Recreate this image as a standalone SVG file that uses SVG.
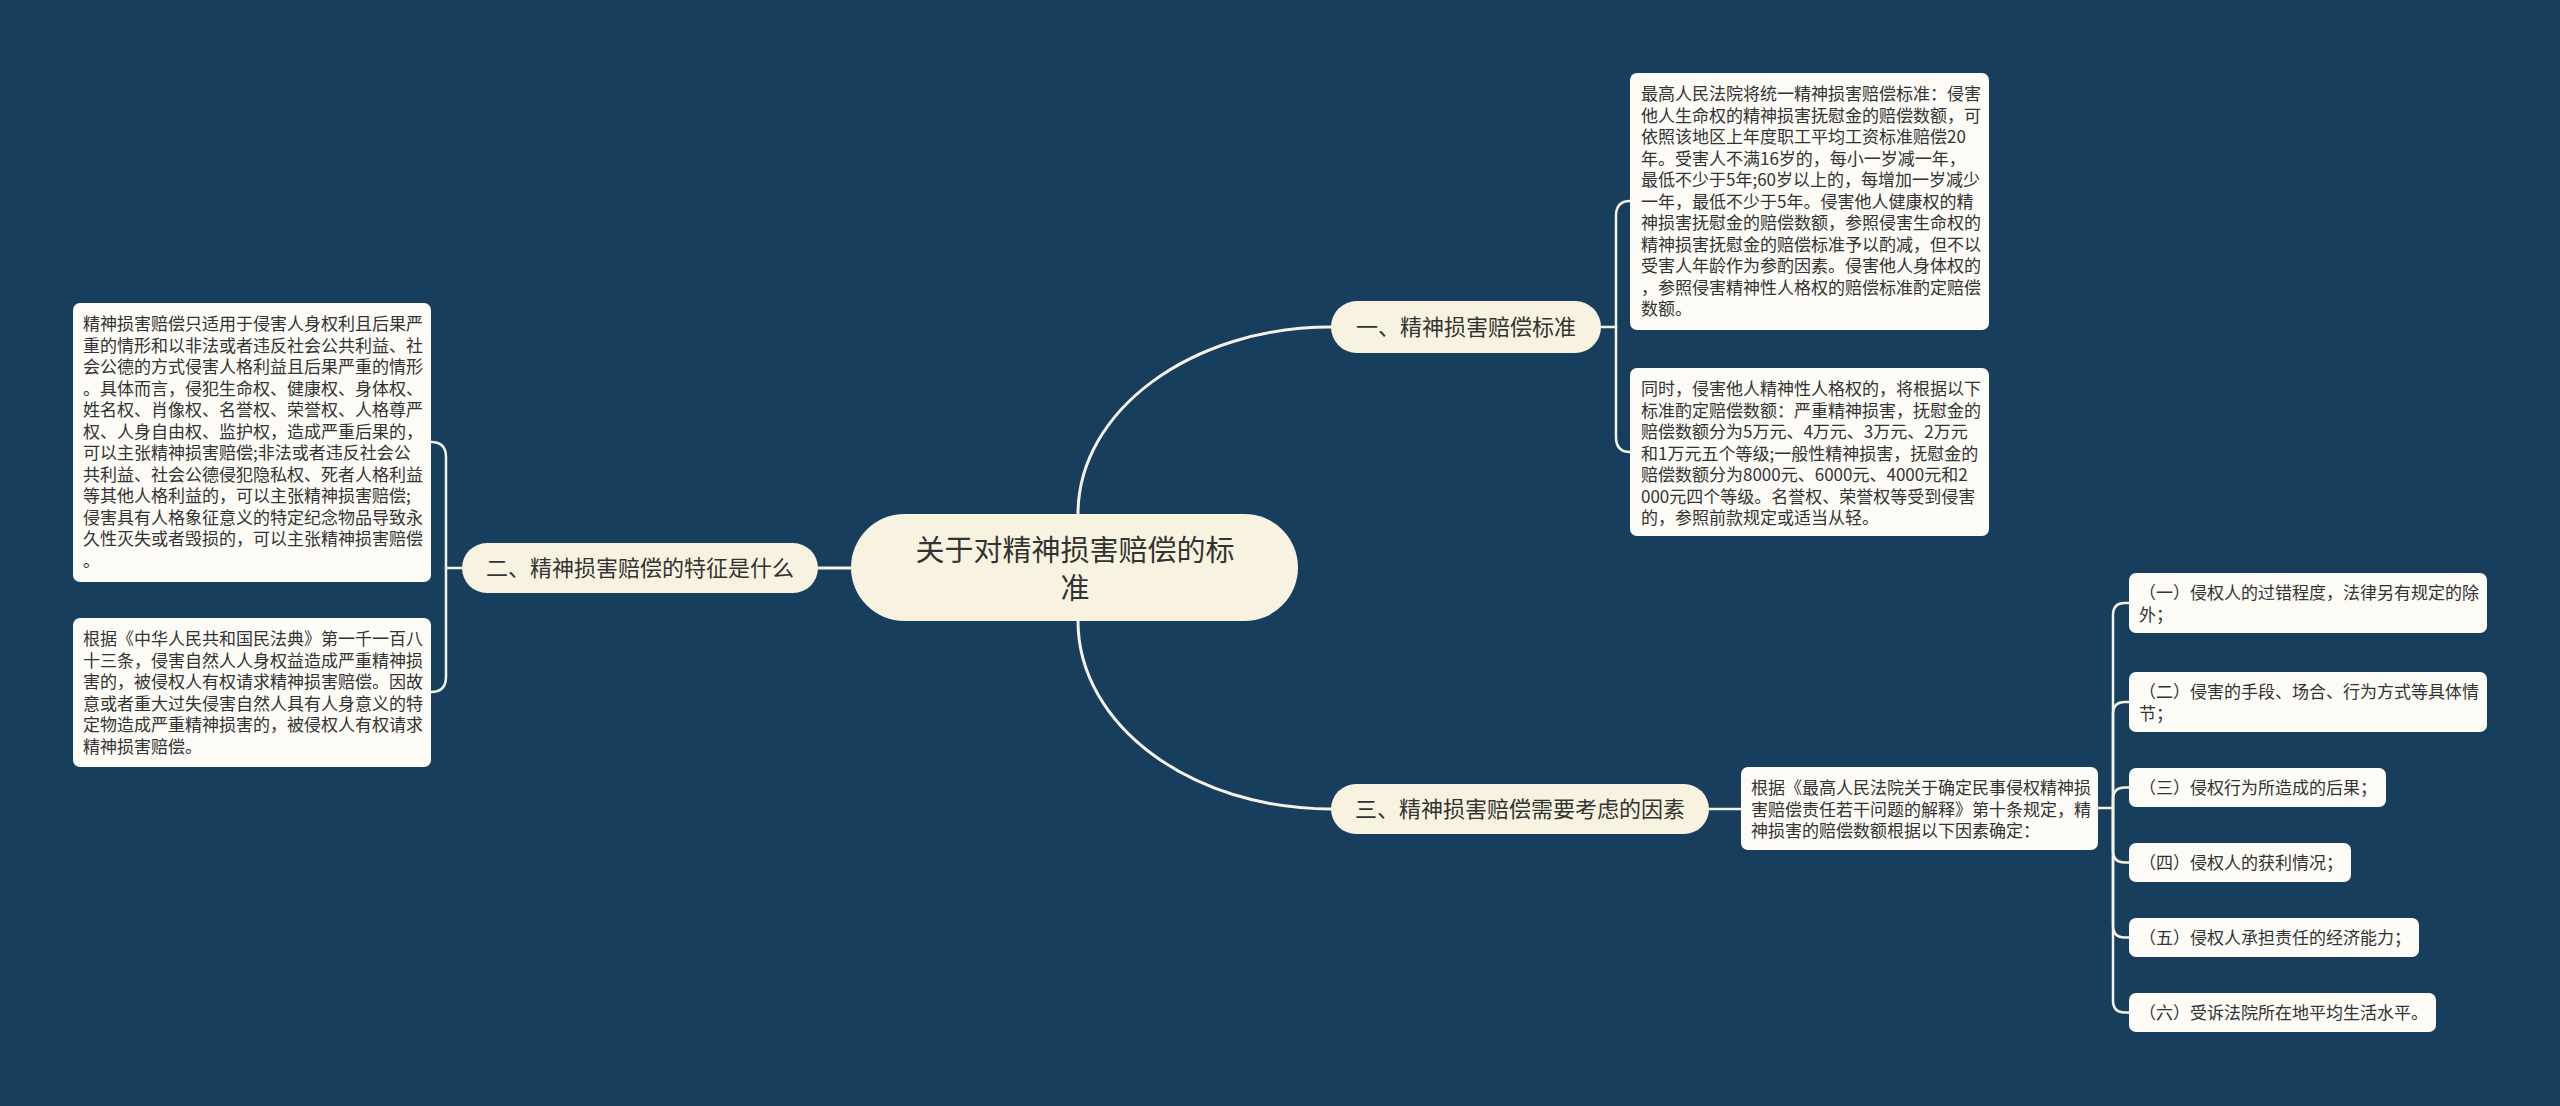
<svg xmlns="http://www.w3.org/2000/svg" width="2560" height="1106" viewBox="0 0 2560 1106">
<style>
.bg{fill:#183e5e}
.root{fill:#f8f3e0}
.pill{fill:#f8f3e0}
.box{fill:#fcfbf5}
.t{font-family:"Noto Sans CJK SC","Noto Sans",sans-serif;fill:#333333}
.ts{font-size:17px}
.tm{font-size:22px;text-anchor:middle}
.tl{font-size:29px;text-anchor:middle}
.c{fill:none;stroke:#f5f2e6;stroke-width:2.5;stroke-linecap:round}
.cm{fill:none;stroke:#f5f2e6;stroke-width:3;stroke-linecap:round}
</style>
<rect class="bg" x="0" y="0" width="2560" height="1106"/>
<g id="connectors">
<path class="cm" d="M1078 514 C1078 411 1191 327 1331 327"/>
<path class="cm" d="M1078 621 C1078 725 1191 809 1331 809"/>
<path class="cm" d="M851 568 H818"/>
<path class="c" d="M462 568 H446"/>
<path class="c" d="M446 568 V457 Q446 442 431 442"/>
<path class="c" d="M446 568 V677 Q446 692 431 692"/>
<path class="c" d="M1601 327 H1616"/>
<path class="c" d="M1616 327 V216 Q1616 201 1630 201"/>
<path class="c" d="M1616 327 V437 Q1616 452 1630 452"/>
<path class="c" d="M1709 809 H1741"/>
<path class="c" d="M2098 808 H2113"/>
<path class="c" d="M2113 808 V615 Q2113 603 2125 603 H2129"/>
<path class="c" d="M2113 808 V714 Q2113 702 2125 702 H2129"/>
<path class="c" d="M2113 808 V799.5 Q2113 787.5 2125 787.5 H2129"/>
<path class="c" d="M2113 808 V850.5 Q2113 862.5 2125 862.5 H2129"/>
<path class="c" d="M2113 808 V925.5 Q2113 937.5 2125 937.5 H2129"/>
<path class="c" d="M2113 808 V1000.5 Q2113 1012.5 2125 1012.5 H2129"/>
</g>
<g id="root">
<rect class="root" x="851" y="514" width="447" height="107" rx="53.5"/>
<text class="t tl"><tspan x="1075" y="561">关于对精神损害赔偿的标</tspan><tspan x="1075" y="599">准</tspan></text>
</g>
<g id="branch1">
<rect class="pill" x="1331" y="301" width="270" height="52" rx="26"/>
<text class="t tm" x="1466" y="335">一、精神损害赔偿标准</text>
</g>
<g id="branch2">
<rect class="pill" x="462" y="543" width="356" height="50" rx="25"/>
<text class="t tm" x="640" y="576">二、精神损害赔偿的特征是什么</text>
</g>
<g id="branch3">
<rect class="pill" x="1331" y="784" width="378" height="50" rx="25"/>
<text class="t tm" x="1520" y="817">三、精神损害赔偿需要考虑的因素</text>
</g>
<g id="boxA">
<rect class="box" x="1630" y="73" width="359" height="257" rx="7"/>
<text class="t ts">
<tspan x="1641" y="100">最高人民法院将统一精神损害赔偿标准：侵害</tspan>
<tspan x="1641" y="121.5">他人生命权的精神损害抚慰金的赔偿数额，可</tspan>
<tspan x="1641" y="143">依照该地区上年度职工平均工资标准赔偿20</tspan>
<tspan x="1641" y="164.5">年。受害人不满16岁的，每小一岁减一年，</tspan>
<tspan x="1641" y="186">最低不少于5年;60岁以上的，每增加一岁减少</tspan>
<tspan x="1641" y="207.5">一年，最低不少于5年。侵害他人健康权的精</tspan>
<tspan x="1641" y="229">神损害抚慰金的赔偿数额，参照侵害生命权的</tspan>
<tspan x="1641" y="250.5">精神损害抚慰金的赔偿标准予以酌减，但不以</tspan>
<tspan x="1641" y="272">受害人年龄作为参酌因素。侵害他人身体权的</tspan>
<tspan x="1641" y="293.5">，参照侵害精神性人格权的赔偿标准酌定赔偿</tspan>
<tspan x="1641" y="315">数额。</tspan>
</text>
</g>
<g id="boxB">
<rect class="box" x="1630" y="368" width="359" height="168" rx="7"/>
<text class="t ts">
<tspan x="1641" y="395">同时，侵害他人精神性人格权的，将根据以下</tspan>
<tspan x="1641" y="416.5">标准酌定赔偿数额：严重精神损害，抚慰金的</tspan>
<tspan x="1641" y="438">赔偿数额分为5万元、4万元、3万元、2万元</tspan>
<tspan x="1641" y="459.5">和1万元五个等级;一般性精神损害，抚慰金的</tspan>
<tspan x="1641" y="481">赔偿数额分为8000元、6000元、4000元和2</tspan>
<tspan x="1641" y="502.5">000元四个等级。名誉权、荣誉权等受到侵害</tspan>
<tspan x="1641" y="524">的，参照前款规定或适当从轻。</tspan>
</text>
</g>
<g id="boxC">
<rect class="box" x="73" y="303" width="358" height="279" rx="7"/>
<text class="t ts">
<tspan x="83" y="330">精神损害赔偿只适用于侵害人身权利且后果严</tspan>
<tspan x="83" y="351.5">重的情形和以非法或者违反社会公共利益、社</tspan>
<tspan x="83" y="373">会公德的方式侵害人格利益且后果严重的情形</tspan>
<tspan x="83" y="394.5">。具体而言，侵犯生命权、健康权、身体权、</tspan>
<tspan x="83" y="416">姓名权、肖像权、名誉权、荣誉权、人格尊严</tspan>
<tspan x="83" y="437.5">权、人身自由权、监护权，造成严重后果的，</tspan>
<tspan x="83" y="459">可以主张精神损害赔偿;非法或者违反社会公</tspan>
<tspan x="83" y="480.5">共利益、社会公德侵犯隐私权、死者人格利益</tspan>
<tspan x="83" y="502">等其他人格利益的，可以主张精神损害赔偿;</tspan>
<tspan x="83" y="523.5">侵害具有人格象征意义的特定纪念物品导致永</tspan>
<tspan x="83" y="545">久性灭失或者毁损的，可以主张精神损害赔偿</tspan>
<tspan x="83" y="566.5">。</tspan>
</text>
</g>
<g id="boxD">
<rect class="box" x="73" y="618" width="358" height="149" rx="7"/>
<text class="t ts">
<tspan x="83" y="645">根据《中华人民共和国民法典》第一千一百八</tspan>
<tspan x="83" y="666.5">十三条，侵害自然人人身权益造成严重精神损</tspan>
<tspan x="83" y="688">害的，被侵权人有权请求精神损害赔偿。因故</tspan>
<tspan x="83" y="709.5">意或者重大过失侵害自然人具有人身意义的特</tspan>
<tspan x="83" y="731">定物造成严重精神损害的，被侵权人有权请求</tspan>
<tspan x="83" y="752.5">精神损害赔偿。</tspan>
</text>
</g>
<g id="boxE">
<rect class="box" x="1741" y="767" width="357" height="83" rx="7"/>
<text class="t ts">
<tspan x="1751" y="794">根据《最高人民法院关于确定民事侵权精神损</tspan>
<tspan x="1751" y="815.5">害赔偿责任若干问题的解释》第十条规定，精</tspan>
<tspan x="1751" y="837">神损害的赔偿数额根据以下因素确定：</tspan>
</text>
</g>
<g id="item1">
<rect class="box" x="2129" y="573" width="358" height="60" rx="7"/>
<text class="t ts"><tspan x="2139" y="599">（一）侵权人的过错程度，法律另有规定的除</tspan><tspan x="2139" y="620.5">外；</tspan></text>
</g>
<g id="item2">
<rect class="box" x="2129" y="672" width="358" height="60" rx="7"/>
<text class="t ts"><tspan x="2139" y="698">（二）侵害的手段、场合、行为方式等具体情</tspan><tspan x="2139" y="719.5">节；</tspan></text>
</g>
<g id="item3">
<rect class="box" x="2129" y="768" width="257" height="39" rx="7"/>
<text class="t ts" x="2139" y="793.5">（三）侵权行为所造成的后果；</text>
</g>
<g id="item4">
<rect class="box" x="2129" y="843" width="222" height="39" rx="7"/>
<text class="t ts" x="2139" y="868.5">（四）侵权人的获利情况；</text>
</g>
<g id="item5">
<rect class="box" x="2129" y="918" width="290" height="39" rx="7"/>
<text class="t ts" x="2139" y="943.5">（五）侵权人承担责任的经济能力；</text>
</g>
<g id="item6">
<rect class="box" x="2129" y="993" width="307" height="39" rx="7"/>
<text class="t ts" x="2139" y="1018.5">（六）受诉法院所在地平均生活水平。</text>
</g>
</svg>
